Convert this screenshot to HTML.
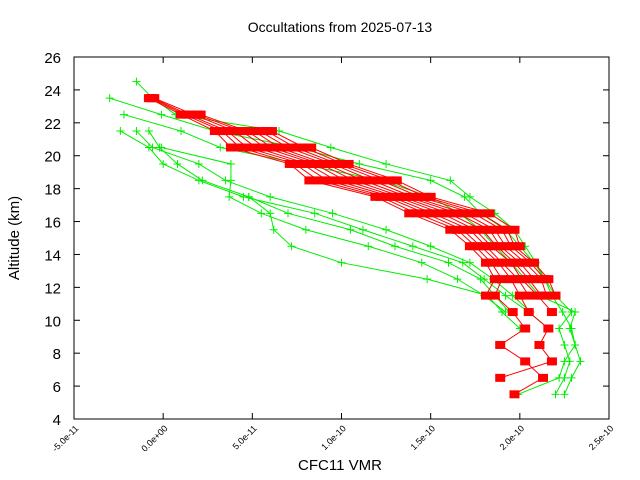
<!DOCTYPE html>
<html><head><meta charset="utf-8"><style>
body{margin:0;background:#fff;}
svg{display:block;font-family:"Liberation Sans",sans-serif;}
</style></head><body>
<svg id="chart" width="640" height="480" viewBox="0 0 640 480" xmlns="http://www.w3.org/2000/svg">
<rect width="640" height="480" fill="#fff"/>
<text x="340" y="32" text-anchor="middle" font-size="14">Occultations from 2025-07-13</text>
<text transform="translate(19,238) rotate(-90)" text-anchor="middle" font-size="15">Altitude (km)</text>
<text x="340" y="470" text-anchor="middle" font-size="15">CFC11 VMR</text>
<g id="axes"></g>
<g id="series"></g>
<rect x="74" y="57" width="535" height="362" fill="none" stroke="#000" stroke-width="1"/>
</svg>
<script>
// values in units of 1e-12 VMR, altitude starting at startAlt descending by 1 km
const xTicks = [-50, 0, 50, 100, 150, 200, 250];
const xTickLabels = ["-5.0e-11","0.0e+00","5.0e-11","1.0e-10","1.5e-10","2.0e-10","2.5e-10"];
const yTicks = [4,6,8,10,12,14,16,18,20,22,24,26];
const redStart = 23.5;
const red1 = [-8,10,29,38,71,82,119,138,161,172,181,186,181];
const red2 = [-7,12,33,43,74,87,122,142,165,175,184,190,186,196,203,189,203,213,197];
const red3 = [-6,14,36,47,78,92,125,147,168,178,188,195,200,205,216,211,218,189];
const red4 = [-5,17,40,52,81,97,128,151,172,181,190,199,205];
const red5 = [null,19,44,57,85,102,131,156,175,184,195,201,210,218];
const red6 = [null,21,47,61,88,107,134,160,179,187,197,205,212];
const red7 = [null,null,51,65,91,112,137,165,183,189,200,208];
const red8 = [null,null,54,70,95,117,140,169,186,192,203,212,215];
const red9 = [null,null,58,74,98,122,144,174,190,195,206,214];
const red10 = [null,null,61,79,101,127,147,178,193,197,208,216,220];
const red11 = [null,null,null,83,104,131,150,183,197,200];
const green1Start = 24.5;
const green1 = [-15,-6,7,65,94,125,161,172,186,197,203,209,214,218,224,229,231,234,229,225];
const green2Start = 23.5;
const green2 = [-30,-1,29,75,110,150,169,178,192,200,208,214,220,229,222,225,228,225,220];
const green3Start = 22.5;
const green3 = [-22,10,32,77,122,150,166,178,186,195,203,211,231,228,231,225,222,199];
const green4Start = 21.5;
const green4 = [-24,-8,0,20,45,85,112,140,168,180,192,205,216];
const green5Start = 21.5;
const green5 = [-15,-6,20,35,60,95,125,150,172,185,196,206];
const green6Start = 20.5;
const green6 = [-1,38,38,37,55,80,115,145,165,180,192];
const green7Start = 21.5;
const green7 = [-8,-2,8,22,48,70,105,130,160,178,186,194];
const green8Start = 17.5;
const green8 = [48,60,62,72,100,148,182,190,200];

const X0=74,X1=609,Y0=419,Y1=57;
const xs=v=>X0+(v+50)/300*(X1-X0);
const ys=a=>Y0-(a-4)/22*(Y0-Y1);
const NS="http://www.w3.org/2000/svg";
const axes=document.getElementById('axes'), ser=document.getElementById('series');
function mk(tag,attrs,parent){const e=document.createElementNS(NS,tag);for(const k in attrs)e.setAttribute(k,attrs[k]);parent.appendChild(e);return e;}
xTicks.forEach((t,i)=>{
  const x=xs(t);
  const tk=mk('line',{x1:x,x2:x,y1:Y0,y2:Y0-6,stroke:'#000'},axes);
  
  
  const tk2=mk('line',{x1:x,x2:x,y1:Y1,y2:Y1+6,stroke:'#000'},axes);
  
  
  const lb=mk('text',{transform:`translate(${x+5},${Y0+10}) rotate(-45)`,'text-anchor':'end','font-size':'9'},axes);
  lb.textContent=xTickLabels[i];
  
  
});
yTicks.forEach(t=>{
  const y=ys(t);
  const tk=mk('line',{x1:X0,x2:X0+6,y1:y,y2:y,stroke:'#000'},axes);
  
  
  const tk2=mk('line',{x1:X1,x2:X1-6,y1:y,y2:y,stroke:'#000'},axes);
  
  
  const lb=mk('text',{x:X0-13,y:y+6,'text-anchor':'end','font-size':'15'},axes);
  lb.textContent=t;
  
  
});
function draw(vals,start,color,kind,name){
  const g=mk('g',{},ser);
  
  
  const pts=[];
  vals.forEach((v,i)=>{if(v!==null)pts.push([xs(v),ys(start-i)]);});
  const pl=mk('polyline',{points:pts.map(p=>p.join(',')).join(' '),fill:'none',stroke:color,'stroke-width':1},g);
  
  
  pts.forEach(p=>{
    if(kind==='sq'){
      const r=mk('rect',{x:p[0]-5,y:p[1]-4,width:10,height:8,fill:color},g);
      
      
    }else{
      const c=mk('path',{d:`M${p[0]-4},${p[1]}h8M${p[0]},${p[1]-4}v8`,stroke:color,'stroke-width':1,fill:'none'},g);
      
      
    }
  });
}
[[green1,green1Start],[green2,green2Start],[green3,green3Start],[green4,green4Start],[green5,green5Start],[green6,green6Start],[green7,green7Start],[green8,green8Start]].forEach((s,i)=>draw(s[0],s[1],'#00ee00','plus','green-profile-'+(i+1)));
[red1,red2,red3,red4,red5,red6,red7,red8,red9,red10,red11].forEach((s,i)=>draw(s,redStart,'#ff0000','sq','red-profile-'+(i+1)));
</script>
</body></html>
